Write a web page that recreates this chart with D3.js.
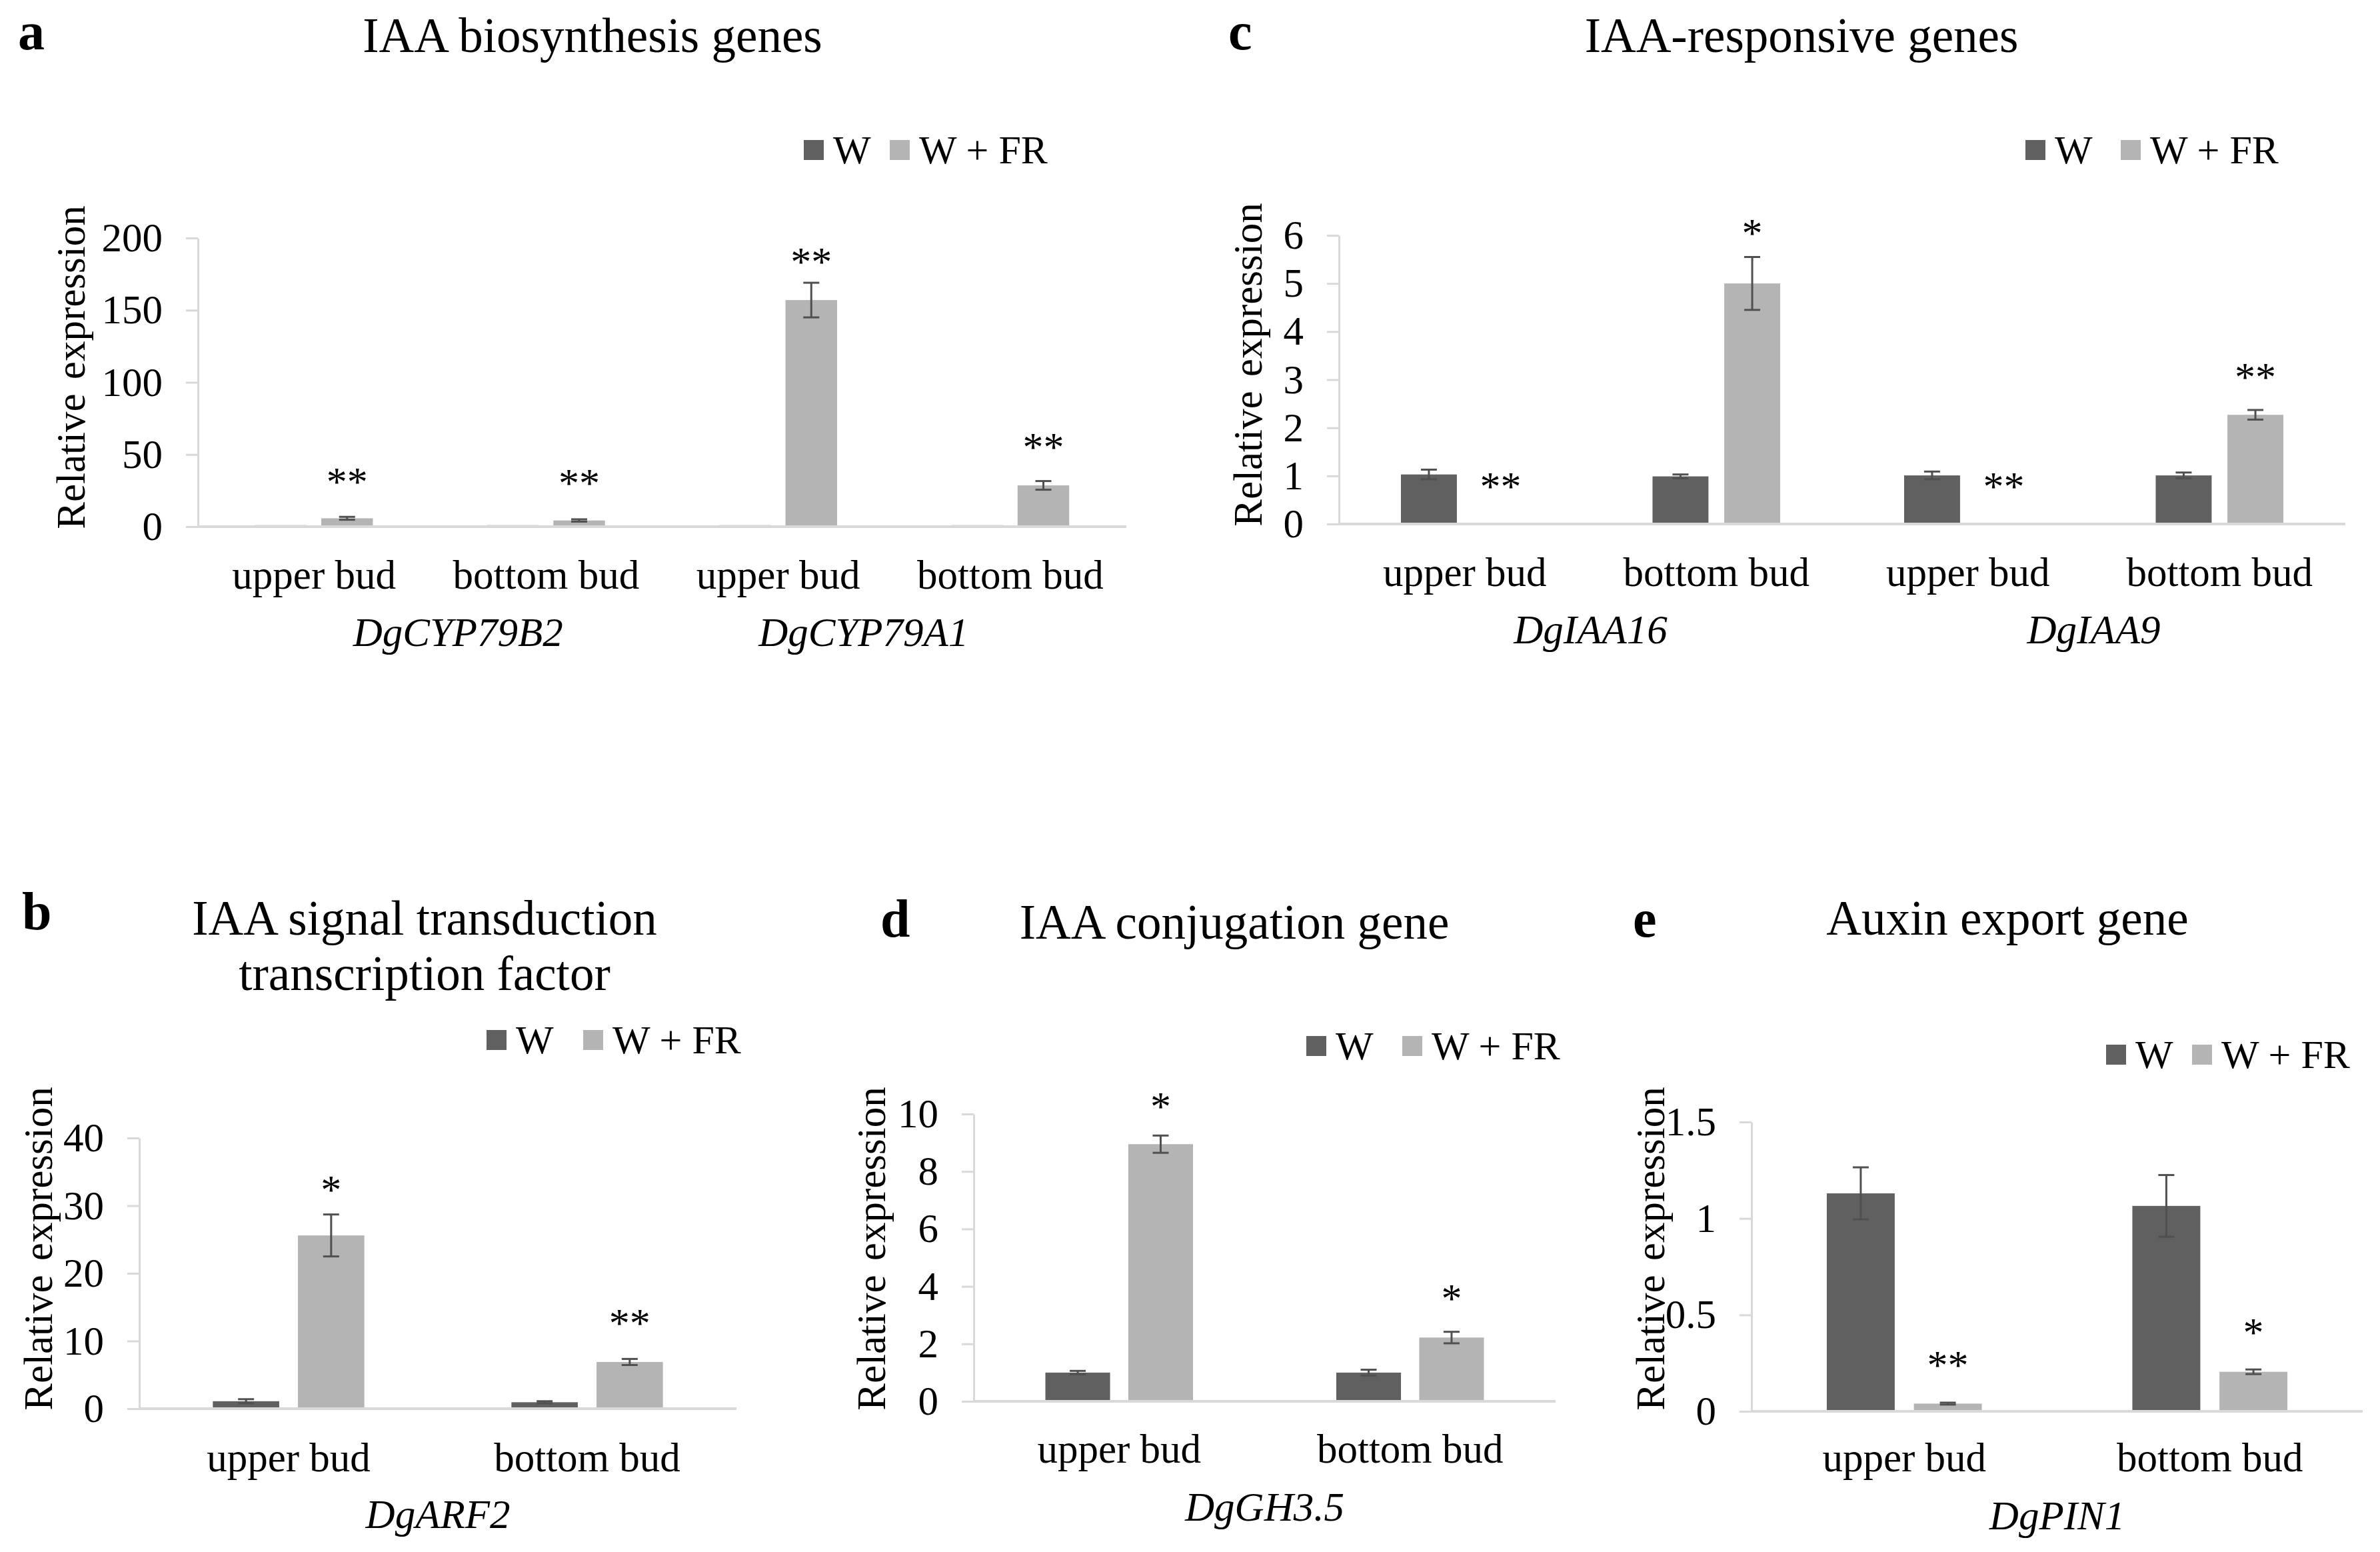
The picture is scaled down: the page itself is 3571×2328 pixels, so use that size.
<!DOCTYPE html>
<html>
<head>
<meta charset="utf-8">
<script src="https://cdn.jsdelivr.net/npm/d3@7/dist/d3.min.js"></script>
<style>
  body { margin: 0; background: #fff; }
  text { font-family: "Liberation Serif", "Times New Roman", serif; fill: #000; }
</style>
</head>
<body>
<svg id="fig" width="3571" height="2328"></svg>
<script>
const series = ['W', 'W + FR'];

// a - IAA biosynthesis genes
const catsA = ['upper bud', 'bottom bud', 'upper bud', 'bottom bud'];
const genesA = ['DgCYP79B2', 'DgCYP79A1'];
const wA = [1, 1, 1, 1];
const wErrA = [0, 0, 0, 0];
const frA = [5.8, 4.3, 157, 28.6];
const frErrA = [1.0, 0.8, 12, 3];
const ticksA = [0, 50, 100, 150, 200];
const starsA = ['**', '**', '**', '**'];
const starLevelA = [21.5, 21, 174, 45.5];

// b - IAA signal transduction transcription factor
const catsB = ['upper bud', 'bottom bud'];
const genesB = ['DgARF2'];
const wB = [1.1, 0.95];
const wErrB = [0.3, 0.15];
const frB = [25.6, 6.9];
const frErrB = [3.1, 0.45];
const ticksB = [0, 10, 20, 30, 40];
const starsB = ['*', '**'];
const starLevelB = [30.3, 10.6];

// c - IAA-responsive genes
const catsC = ['upper bud', 'bottom bud', 'upper bud', 'bottom bud'];
const genesC = ['DgIAA16', 'DgIAA9'];
const wC = [1.03, 0.99, 1.01, 1.01];
const wErrC = [0.1, 0.04, 0.08, 0.06];
const frC = [0, 5.0, 0, 2.27];
const frErrC = [0, 0.55, 0, 0.1];
const ticksC = [0, 1, 2, 3, 4, 5, 6];
const starsC = ['**', '*', '**', '**'];
const starLevelC = [0.5, 5.76, 0.5, 2.77];

// d - IAA conjugation gene
const catsD = ['upper bud', 'bottom bud'];
const genesD = ['DgGH3.5'];
const wD = [1.0, 1.0];
const wErrD = [0.06, 0.1];
const frD = [8.95, 2.22];
const frErrD = [0.3, 0.2];
const ticksD = [0, 2, 4, 6, 8, 10];
const starsD = ['*', '*'];
const starLevelD = [9.8, 3.1];

// e - Auxin export gene
const catsE = ['upper bud', 'bottom bud'];
const genesE = ['DgPIN1'];
const wE = [1.13, 1.065];
const wErrE = [0.135, 0.16];
const frE = [0.04, 0.205];
const frErrE = [0.005, 0.012];
const ticksE = [0, 0.5, 1, 1.5];
const starsE = ['**', '*'];
const starLevelE = [0.17, 0.34];

const colW = '#606060', colFR = '#b4b4b4', colErr = '#505050', colAxis = '#d9d9d9';
const serif = '"Liberation Serif", "Times New Roman", serif';

const panels = [
  {letter: 'a', title: ['IAA biosynthesis genes'], cats: catsA, genes: genesA, geneShift: [42, -46],
   w: wA, wErr: wErrA, fr: frA, frErr: frErrA, ticks: ticksA, stars: starsA, starLevel: starLevelA,
   box: {x0: 297, x1: 1690, y0: 790, y1: 357}, letterAt: [27, 74], titleAt: [889, 78],
   legend: [1206, 1335, 245], ylab: [127, 551], catY: 883, geneY: 969},
  {letter: 'b', title: ['IAA signal transduction', 'transcription factor'], cats: catsB, genes: genesB, geneShift: [0],
   w: wB, wErr: wErrB, fr: frB, frErr: frErrB, ticks: ticksB, stars: starsB, starLevel: starLevelB,
   box: {x0: 209, x1: 1105, y0: 2113, y1: 1707}, letterAt: [33, 1394], titleAt: [637, 1402],
   legend: [730, 875, 1580], ylab: [78, 1873], catY: 2207, geneY: 2292},
  {letter: 'c', title: ['IAA-responsive genes'], cats: catsC, genes: genesC, geneShift: [0, 0],
   w: wC, wErr: wErrC, fr: frC, frErr: frErrC, ticks: ticksC, stars: starsC, starLevel: starLevelC,
   box: {x0: 2009, x1: 3519, y0: 786, y1: 353}, letterAt: [1843, 74], titleAt: [2703, 78],
   legend: [3039, 3182, 245], ylab: [1893, 547], catY: 879, geneY: 965},
  {letter: 'd', title: ['IAA conjugation gene'], cats: catsD, genes: genesD, geneShift: [0],
   w: wD, wErr: wErrD, fr: frD, frErr: frErrD, ticks: ticksD, stars: starsD, starLevel: starLevelD,
   box: {x0: 1461, x1: 2334, y0: 2102, y1: 1671}, letterAt: [1321, 1405], titleAt: [1852, 1408],
   legend: [1960, 2104, 1589], ylab: [1328, 1873], catY: 2194, geneY: 2281},
  {letter: 'e', title: ['Auxin export gene'], cats: catsE, genes: genesE, geneShift: [0],
   w: wE, wErr: wErrE, fr: frE, frErr: frErrE, ticks: ticksE, stars: starsE, starLevel: starLevelE,
   box: {x0: 2628, x1: 3545, y0: 2117, y1: 1683}, letterAt: [2450, 1405], titleAt: [3012, 1402],
   legend: [3160, 3289, 1602], ylab: [2497, 1873], catY: 2207, geneY: 2294}
];

const svg = d3.select('#fig');
svg.append('rect').attr('width', 3571).attr('height', 2328).attr('fill', '#fff');

function drawPanel(p) {
  const g = svg.append('g');
  const x = d3.scaleBand().domain(d3.range(p.cats.length)).range([p.box.x0, p.box.x1]);
  const xs = d3.scaleBand().domain(series).range([0, x.bandwidth()])
    .paddingInner(0.22).paddingOuter(0.864);
  const y = d3.scaleLinear().domain([0, d3.max(p.ticks)]).range([p.box.y0, p.box.y1]);

  // panel letter + title
  g.append('text').attr('x', p.letterAt[0]).attr('y', p.letterAt[1])
    .attr('font-size', 80).attr('font-weight', 'bold').text(p.letter);
  p.title.forEach((t, k) => {
    g.append('text').attr('x', p.titleAt[0]).attr('y', p.titleAt[1] + k * 83)
      .attr('text-anchor', 'middle').attr('font-size', 73).text(t);
  });

  // legend
  [[series[0], colW, p.legend[0]], [series[1], colFR, p.legend[1]]].forEach(([name, c, lx]) => {
    g.append('rect').attr('x', lx).attr('y', p.legend[2] - 35).attr('width', 30).attr('height', 30).attr('fill', c);
    g.append('text').attr('x', lx + 44).attr('y', p.legend[2]).attr('font-size', 60).text(name);
  });

  // y axis
  const yAxis = d3.axisLeft(y).tickValues(p.ticks).tickSize(18).tickSizeOuter(0)
    .tickPadding(35).tickFormat(d3.format('~g'));
  g.append('g').attr('transform', `translate(${p.box.x0},0)`).call(yAxis)
    .attr('font-size', 61).attr('font-family', serif)
    .call(s => s.selectAll('line, path').attr('stroke', colAxis).attr('stroke-width', 3))
    .call(s => s.selectAll('text').attr('fill', '#000'));

  g.append('text')
    .attr('transform', `translate(${p.ylab[0]},${p.ylab[1]}) rotate(-90)`)
    .attr('text-anchor', 'middle').attr('font-size', 61).attr('word-spacing', 6).text('Relative expression');

  // bars
  const rows = p.cats.map((c, i) => [
    {i, s: series[0], v: p.w[i], e: p.wErr[i], c: colW},
    {i, s: series[1], v: p.fr[i], e: p.frErr[i], c: colFR}
  ]).flat();
  g.selectAll('rect.bar').data(rows).join('rect').attr('class', 'bar')
    .attr('x', d => x(d.i) + xs(d.s))
    .attr('y', d => y(d.v))
    .attr('width', xs.bandwidth())
    .attr('height', d => y(0) - y(d.v))
    .attr('fill', d => d.c);

  // error bars
  const eb = g.selectAll('g.err').data(rows.filter(d => d.e > 0)).join('g').attr('class', 'err')
    .attr('transform', d => `translate(${x(d.i) + xs(d.s) + xs.bandwidth() / 2},0)`)
    .attr('stroke', colErr).attr('stroke-width', 3);
  eb.append('line').attr('y1', d => y(d.v - d.e)).attr('y2', d => y(d.v + d.e));
  eb.append('line').attr('x1', -12).attr('x2', 12).attr('y1', d => y(d.v + d.e)).attr('y2', d => y(d.v + d.e));
  eb.append('line').attr('x1', -12).attr('x2', 12).attr('y1', d => y(d.v - d.e)).attr('y2', d => y(d.v - d.e));

  // horizontal axis line (drawn over the bars, as in the original)
  g.append('line').attr('x1', p.box.x0).attr('x2', p.box.x1)
    .attr('y1', y(0)).attr('y2', y(0)).attr('stroke', colAxis).attr('stroke-width', 4);

  // significance stars
  g.selectAll('text.star').data(p.stars).join('text').attr('class', 'star')
    .attr('x', (d, i) => x(i) + xs(series[1]) + xs.bandwidth() / 2)
    .attr('y', (d, i) => y(p.starLevel[i]))
    .attr('text-anchor', 'middle').attr('font-size', 62).text(d => d);

  // category labels
  const xAxis = d3.axisBottom(x).tickSize(0).tickPadding(0).tickFormat(i => p.cats[i]);
  g.append('g').attr('transform', `translate(0,${p.catY})`).call(xAxis)
    .attr('font-size', 61).attr('font-family', serif)
    .call(s => s.select('.domain').remove())
    .call(s => s.selectAll('text').attr('y', 0).attr('dy', 0).attr('fill', '#000'));

  // gene labels (two categories per gene)
  p.genes.forEach((gname, k) => {
    const cx = (x(2 * k) + x(2 * k + 1) + x.bandwidth()) / 2 + p.geneShift[k];
    g.append('text').attr('x', cx).attr('y', p.geneY).attr('text-anchor', 'middle')
      .attr('font-size', 61).attr('font-style', 'italic').text(gname);
  });
}

panels.forEach(drawPanel);
</script>
</body>
</html>
